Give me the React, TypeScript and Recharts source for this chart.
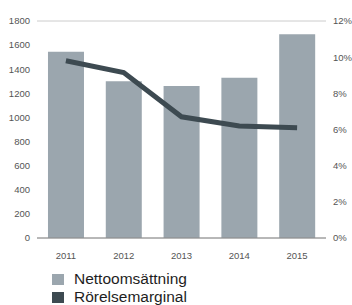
import React from "react";
import { ComposedChart, Bar, Line, XAxis, YAxis, CartesianGrid, Legend } from "recharts";

const years = ["2011", "2012", "2013", "2014", "2015"];
const nettoomsattning = [1545, 1300, 1260, 1330, 1690];
const rorelsemarginal = [9.8, 9.15, 6.7, 6.2, 6.1];
const leftTicks = [0, 200, 400, 600, 800, 1000, 1200, 1400, 1600, 1800];
const rightTicks = [0, 2, 4, 6, 8, 10, 12];

const BAR_COLOR = "#9ba6ae";
const LINE_COLOR = "#3d4a51";
const FONT = "'Liberation Sans', Arial, Helvetica, sans-serif";

const data = years.map((y, i) => ({
  year: y,
  netto: nettoomsattning[i],
  marginal: rorelsemarginal[i],
}));

const legendItems = [
  { label: "Nettoomsättning", color: BAR_COLOR },
  { label: "Rörelsemarginal", color: LINE_COLOR },
];

const LegendContent = () => (
  <div style={{ fontFamily: FONT, fontSize: 15.5, color: "#1e1e1e", height: 36 }}>
    {legendItems.map((it) => (
      <div key={it.label} style={{ display: "flex", alignItems: "center", height: 18 }}>
        <span style={{ display: "inline-block", width: 12, height: 11, background: it.color, marginRight: 10 }} />
        <span style={{ lineHeight: "18px" }}>{it.label}</span>
      </div>
    ))}
  </div>
);

export default function App() {
  const tickStyle = { fontSize: 9.5, fill: "#555", fontFamily: FONT };
  return (
    <div style={{ position: "absolute", left: 0, top: 0, background: "#fff" }}>
      <ComposedChart
        width={352}
        height={305}
        data={data}
        margin={{ top: 21, right: 0, left: 0, bottom: 11 }}
        barCategoryGap="19%"
      >
        <CartesianGrid vertical={false} stroke="#cccccc" />
        <XAxis
          dataKey="year"
          tickLine={false}
          axisLine={{ stroke: "#8a8a8a" }}
          tick={tickStyle}
          tickMargin={8}
          height={20}
        />
        <YAxis
          yAxisId="left"
          domain={[0, 1800]}
          ticks={leftTicks}
          tickLine={false}
          axisLine={false}
          tick={tickStyle}
          tickSize={5}
          tickMargin={2}
          width={37}
          interval={0}
        />
        <YAxis
          yAxisId="right"
          orientation="right"
          domain={[0, 12]}
          ticks={rightTicks}
          tickFormatter={(v: number) => `${v}%`}
          tickLine={false}
          axisLine={false}
          tick={tickStyle}
          tickSize={6}
          tickMargin={1}
          width={26}
          interval={0}
        />
        <Bar yAxisId="left" dataKey="netto" fill={BAR_COLOR} isAnimationActive={false} />
        <Line
          yAxisId="right"
          dataKey="marginal"
          stroke={LINE_COLOR}
          strokeWidth={5}
          dot={false}
          activeDot={false}
          type="linear"
          isAnimationActive={false}
        />
        <Legend
          verticalAlign="bottom"
          align="left"
          content={<LegendContent />}
          wrapperStyle={{ left: 52, top: 270, width: 200, height: 36 }}
        />
      </ComposedChart>
    </div>
  );
}
